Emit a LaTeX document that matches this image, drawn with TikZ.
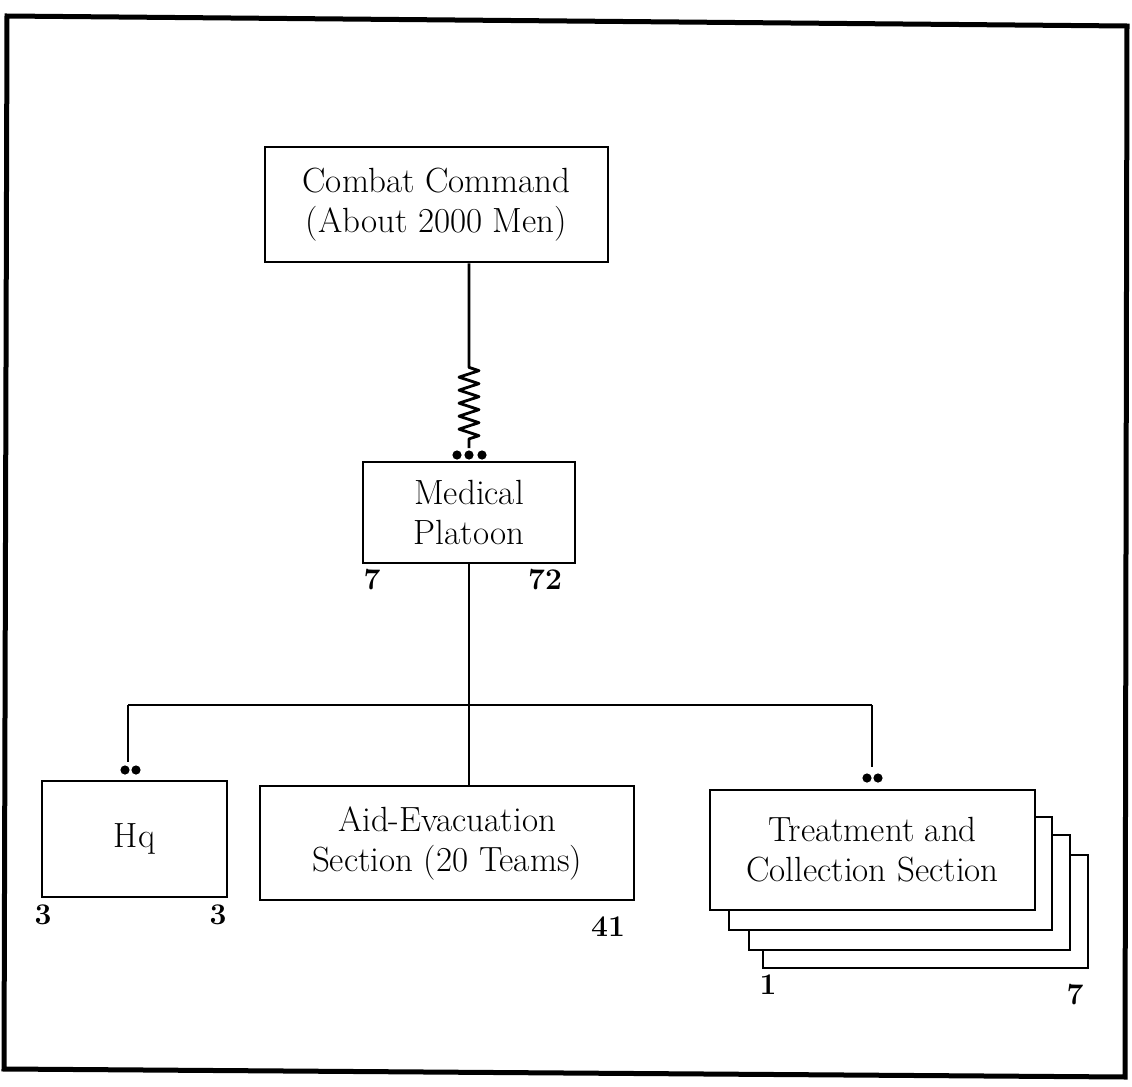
\documentclass[tikz,border=0pt]{standalone}
\usetikzlibrary{decorations.pathmorphing}
\begin{document}
\begin{tikzpicture}[x=0.5pt,y=-0.5pt,
  line width=1.4pt,
  unit/.style={draw, fill=white, align=center, inner sep=0pt,
    font=\fontsize{17.5}{20}\selectfont},
  strength/.style={font=\fontsize{15}{18}\selectfont\bfseries, inner sep=0pt},
  dot/.style={circle, fill=black, inner sep=0pt, minimum size=4.6pt},
  spring/.style={decorate, line join=round,
    decoration={zigzag, amplitude=5pt, segment length=6.5pt,
      pre length=52pt, post length=4pt}}]
  \useasboundingbox (0,0) rectangle (1132,1087);
  % outer frame
  \draw[line width=2.5pt] (7,16) -- (1127,26) -- (1125,1077) -- (4,1069) -- cycle;

  % units
  \node[unit, minimum width=171.5pt, minimum height=57.5pt] (cc) at (436.5,204.5)
    {Combat Command\\(About 2000 Men)};
  \node[unit, minimum width=106pt, minimum height=50.5pt] (mp) at (469,512.5)
    {Medical\\Platoon};
  \node[unit, minimum width=92.5pt, minimum height=58pt] (hq) at (134.5,839) {Hq};
  \node[unit, minimum width=187pt, minimum height=57pt] (ae) at (447,843)
    {Aid-Evacuation\\Section (20 Teams)};

  % stacked treatment and collection sections
  \draw[fill=white] (763,855) rectangle (1088,968);
  \draw[fill=white] (749,835) rectangle (1070,950);
  \draw[fill=white] (729,817) rectangle (1052,930);
  \node[unit, minimum width=162.5pt, minimum height=60pt] (tc) at (872.5,850)
    {Treatment and\\Collection Section};

  % attachment from combat command to medical platoon
  \coordinate (springend) at (cc.south -| mp.north);
  \coordinate (platoontop) at (469,448);
  \draw[spring] (springend) -- (platoontop);
  \node[dot] (d1) at (457,455) {};
  \node[dot] (d2) at (469,455) {};
  \node[dot] (d3) at (482,455) {};

  % platoon to sections
  \coordinate (busl) at (128,705);
  \coordinate (busr) at (872,705);
  \draw (mp.south) -- (mp.south |- ae.north);
  \draw (busl) -- (busr);
  \coordinate (hqtop) at (128,762);
  \coordinate (tctop) at (872,767);
  \draw (busl) -- (hqtop);
  \draw (busr) -- (tctop);
  \node[dot] (h1) at (125,770) {};
  \node[dot] (h2) at (136,770) {};
  \node[dot] (t1) at (867,778) {};
  \node[dot] (t2) at (878,778) {};

  % officer and enlisted strengths
  \node[strength] (mpo) at (372,580) {7};
  \node[strength] (mpe) at (545,580) {72};
  \node[strength] (hqo) at (43,915) {3};
  \node[strength] (hqe) at (218,915) {3};
  \node[strength] (aee) at (608,927) {41};
  \node[strength] (tco) at (768,985) {1};
  \node[strength] (tce) at (1075,995) {7};
\end{tikzpicture}
\end{document}
